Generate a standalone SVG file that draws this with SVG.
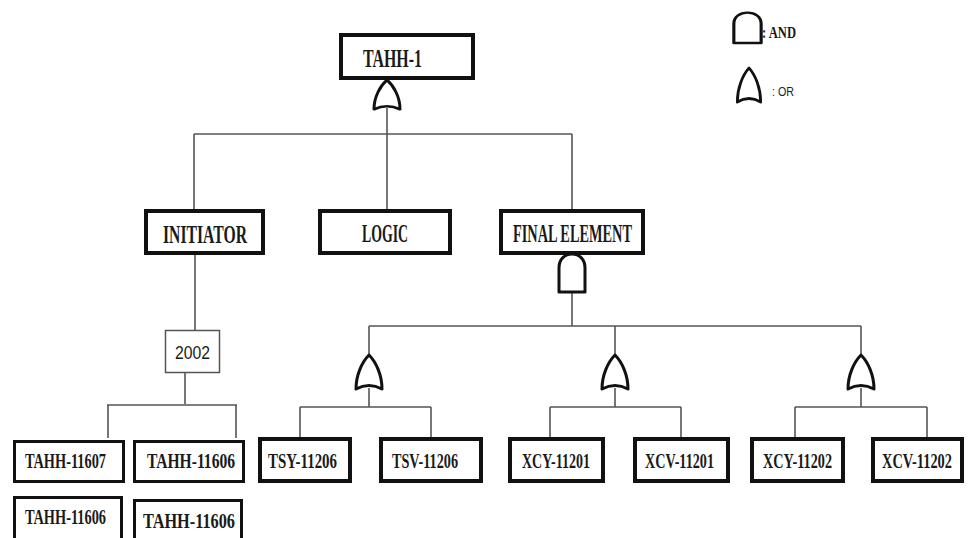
<svg xmlns="http://www.w3.org/2000/svg" xmlns:xlink="http://www.w3.org/1999/xlink" width="968" height="538" viewBox="0 0 968 538">
  <style>
    .box { fill: #fff; stroke: #111; stroke-width: 4; }
    .box-s { fill: #fff; stroke: #111; stroke-width: 3; }
    .box-thin { fill: #fff; stroke: #555; stroke-width: 1.5; }
    .lbl { font-family: "Liberation Serif", "Times New Roman", serif; font-weight: bold; fill: #1a1a1a; }
    .big { font-size: 25px; }
    .small { font-size: 20px; }
    .sans { font-family: "Liberation Sans", Arial, sans-serif; fill: #1a1a1a; }
    .wire { stroke: #555; stroke-width: 1.6; fill: none; }
    .gate { fill: #fff; stroke: #111; stroke-width: 3; stroke-linejoin: round; }
  </style>
  <defs>
    <!-- OR gate: apex at origin, 34 tall, 26 wide -->
    <path id="or-gate" d="M0,0 C7,7 13,20 13,34 Q0,27 -13,34 C-13,20 -7,7 0,0 Z"/>
    <!-- AND gate: flat base at origin, 38 tall, 26 wide -->
    <path id="and-gate" d="M-13,0 V-24 C-13,-33 -7,-38 0,-38 C7,-38 13,-33 13,-24 V0 Z"/>
  </defs>
  <rect width="968" height="538" fill="#fff"/>

  <g id="connectors">
    <path class="wire" d="M387,108 V134 M194,134 H572 M194,134 V209 M387,134 V209 M572,134 V209"/>
    <path class="wire" d="M195,255 V330 M185,373 V404 M107,405 H237 M108,405 V438 M236,405 V438"/>
    <path class="wire" d="M572,292 V326 M369,326 H861 M369,326 V356 M615,326 V356 M861,326 V356"/>
    <path class="wire" d="M369,388 V407 M300,407 H431 M300,407 V437 M431,407 V437"/>
    <path class="wire" d="M615,388 V407 M550,407 H681 M550,407 V437 M681,407 V437"/>
    <path class="wire" d="M861,388 V407 M795,407 H927 M795,407 V437 M927,407 V437"/>
  </g>

  <g id="legend">
    <use href="#and-gate" class="gate" transform="translate(747.5,43) scale(1.05,0.8)"/>
    <text class="lbl" x="762" y="38" font-size="17" textLength="34" lengthAdjust="spacingAndGlyphs">: AND</text>
    <use href="#or-gate" class="gate" transform="translate(749,68) scale(0.9,1)"/>
    <text class="sans" x="772" y="96" font-size="13" textLength="22" lengthAdjust="spacingAndGlyphs">: OR</text>
  </g>

  <g id="tahh-1">
    <rect class="box" x="341" y="35" width="132" height="43"/>
    <text class="lbl big" x="363" y="67" textLength="59" lengthAdjust="spacingAndGlyphs">TAHH-1</text>
    <use href="#or-gate" class="gate" transform="translate(387,80) scale(1,0.86)"/>
  </g>

  <g id="initiator">
    <rect class="box" x="146" y="211" width="117" height="42"/>
    <text class="lbl big" x="163" y="243" textLength="84" lengthAdjust="spacingAndGlyphs">INITIATOR</text>
  </g>

  <g id="logic">
    <rect class="box" x="320" y="211" width="130" height="42"/>
    <text class="lbl big" x="362" y="242" textLength="46" lengthAdjust="spacingAndGlyphs">LOGIC</text>
  </g>

  <g id="final-element">
    <rect class="box" x="501" y="211" width="142" height="42"/>
    <text class="lbl big" x="513" y="242" textLength="119" lengthAdjust="spacingAndGlyphs">FINAL ELEMENT</text>
    <use href="#and-gate" class="gate" transform="translate(572,292)"/>
  </g>

  <g id="vote-2002">
    <rect class="box-thin" x="165.5" y="330.5" width="54" height="42"/>
    <text class="sans" x="175" y="359" font-size="18" textLength="35" lengthAdjust="spacingAndGlyphs">2002</text>
  </g>

  <g id="tahh-11607">
    <rect class="box-s" x="14.5" y="441.5" width="109" height="40"/>
    <text class="lbl small" x="25" y="468" textLength="81" lengthAdjust="spacingAndGlyphs">TAHH-11607</text>
  </g>
  <g id="tahh-11606-a">
    <rect class="box-s" x="134.5" y="441.5" width="109" height="40"/>
    <text class="lbl small" x="147" y="468" textLength="88" lengthAdjust="spacingAndGlyphs">TAHH-11606</text>
  </g>
  <g id="tahh-11606-b">
    <rect class="box-s" x="14.5" y="497.5" width="107" height="48"/>
    <text class="lbl small" x="25" y="524" textLength="81" lengthAdjust="spacingAndGlyphs">TAHH-11606</text>
  </g>
  <g id="tahh-11606-c">
    <rect class="box-s" x="134.5" y="500.5" width="107" height="48"/>
    <text class="lbl small" x="143" y="528" textLength="92" lengthAdjust="spacingAndGlyphs">TAHH-11606</text>
  </g>

  <g id="or-tsy">
    <use href="#or-gate" class="gate" transform="translate(369,355)"/>
  </g>
  <g id="or-xc-11201">
    <use href="#or-gate" class="gate" transform="translate(615,355)"/>
  </g>
  <g id="or-xc-11202">
    <use href="#or-gate" class="gate" transform="translate(861,355)"/>
  </g>

  <g id="tsy-11206">
    <rect class="box" x="260" y="439" width="90" height="42"/>
    <text class="lbl small" x="268" y="468" textLength="69" lengthAdjust="spacingAndGlyphs">TSY-11206</text>
  </g>
  <g id="tsv-11206">
    <rect class="box" x="381" y="439" width="100" height="42"/>
    <text class="lbl small" x="392" y="468" textLength="66" lengthAdjust="spacingAndGlyphs">TSV-11206</text>
  </g>
  <g id="xcy-11201">
    <rect class="box" x="510" y="439" width="93" height="42"/>
    <text class="lbl small" x="522" y="468" textLength="68" lengthAdjust="spacingAndGlyphs">XCY-11201</text>
  </g>
  <g id="xcv-11201">
    <rect class="box" x="635" y="439" width="93" height="42"/>
    <text class="lbl small" x="645" y="468" textLength="69" lengthAdjust="spacingAndGlyphs">XCV-11201</text>
  </g>
  <g id="xcy-11202">
    <rect class="box" x="752" y="439" width="91" height="42"/>
    <text class="lbl small" x="763" y="468" textLength="69" lengthAdjust="spacingAndGlyphs">XCY-11202</text>
  </g>
  <g id="xcv-11202">
    <rect class="box" x="873" y="439" width="89" height="42"/>
    <text class="lbl small" x="882" y="468" textLength="70" lengthAdjust="spacingAndGlyphs">XCV-11202</text>
  </g>
</svg>
